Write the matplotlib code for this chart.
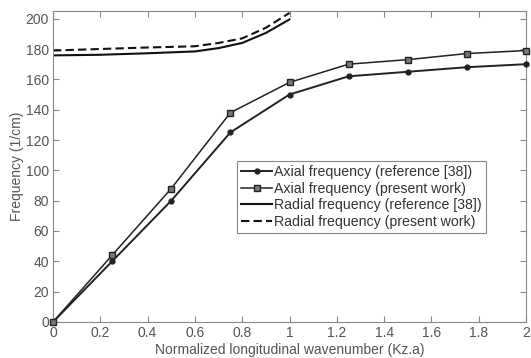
import matplotlib.pyplot as plt

# DATA
kz = [0, 0.25, 0.5, 0.75, 1.0, 1.25, 1.5, 1.75, 2.0]
axial_ref = [0, 40, 80, 125, 150, 162, 165, 168, 170]
axial_present = [0, 44, 88, 138, 158, 170, 173, 177, 179]

kz_radial = [0, 0.2, 0.4, 0.6, 0.7, 0.8, 0.9, 1.0]
radial_ref = [175.8, 176.2, 177.2, 178.4, 180.6, 184.0, 190.6, 199.5]
radial_present = [179.0, 180.0, 181.0, 181.8, 184.0, 187.0, 194.0, 203.8]

plt.rcParams['font.family'] = ['Liberation Sans', 'DejaVu Sans']
text_col = '#555555'

fig = plt.figure(figsize=(5.31, 3.58), dpi=100)
ax = fig.add_axes([0.0998, 0.1006, 0.8908, 0.8684])

ax.plot(kz, axial_ref, color='#222222', lw=1.4, marker='o', ms=3.5,
        mfc='#222222', mec='#222222', clip_on=False, zorder=3,
        label='Axial frequency (reference [38])')
ax.plot(kz, axial_present, color='#222222', lw=1.1, marker='s', ms=4.5,
        mfc='#777777', mec='#222222', mew=1.0, clip_on=False, zorder=3,
        label='Axial frequency (present work)')
ax.plot(kz_radial, radial_ref, color='#111111', lw=1.5,
        label='Radial frequency (reference [38])')
ax.plot(kz_radial, radial_present, color='#111111', lw=1.5, ls=(0, (4, 2)),
        label='Radial frequency (present work)')

ax.set_xlim(0, 2)
ax.set_ylim(0, 205)
ax.set_xticks([0, 0.2, 0.4, 0.6, 0.8, 1, 1.2, 1.4, 1.6, 1.8, 2])
ax.set_xticklabels(['0', '0.2', '0.4', '0.6', '0.8', '1', '1.2', '1.4', '1.6', '1.8', '2'])
ax.set_yticks(range(0, 201, 20))

ax.tick_params(direction='in', top=True, right=True, length=4, width=0.8,
               colors='#888888', labelcolor=text_col, labelsize=10, pad=3)
for s in ax.spines.values():
    s.set_color('#888888')
    s.set_linewidth(0.8)

ax.set_xlabel('Normalized longitudinal wavenumber (Kz.a)', color=text_col, fontsize=10, labelpad=2)
ax.set_ylabel('Frequency (1/cm)', color=text_col, fontsize=10, labelpad=1)

leg = ax.legend(loc='upper left', bbox_to_anchor=(0.389, 0.518), fontsize=10.2,
                fancybox=False, edgecolor='#888888', framealpha=1,
                handlelength=2.2, handletextpad=0.1, borderpad=0.3,
                labelspacing=0.18, borderaxespad=0)
leg.get_frame().set_linewidth(0.8)
for t in leg.get_texts():
    t.set_color('#333333')

fig.savefig('out.png', dpi=100)
